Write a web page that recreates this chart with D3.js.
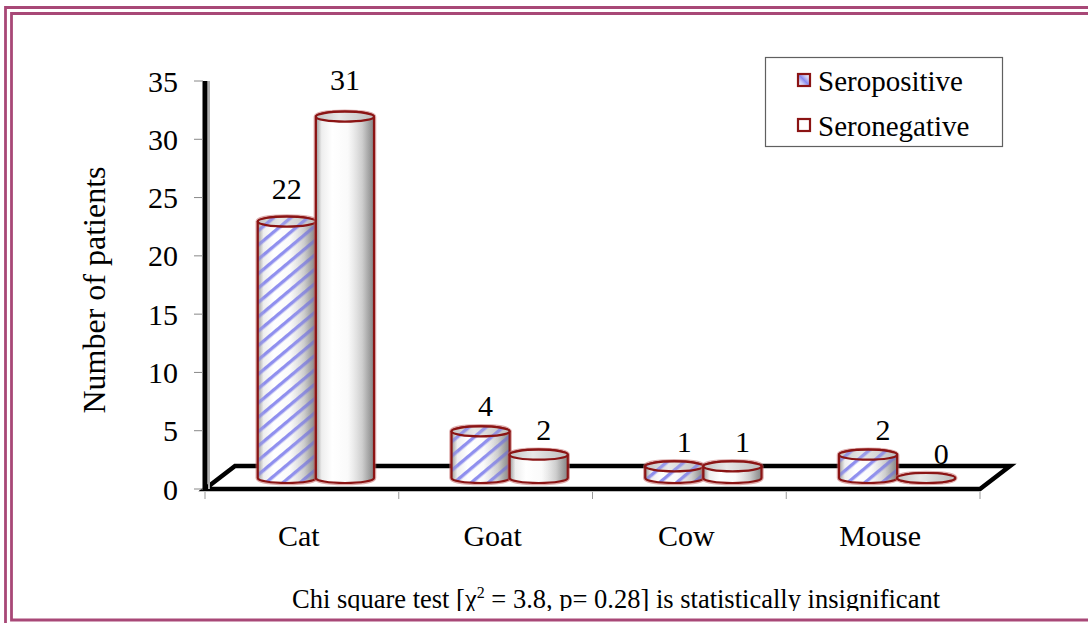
<!DOCTYPE html>
<html>
<head>
<meta charset="utf-8">
<script src="https://cdn.jsdelivr.net/npm/d3@7"></script>
<style>
  body { margin: 0; background: #fff; }
  svg { display: block; }
  text { font-family: "Liberation Serif", "Times New Roman", serif; fill: #000; }
</style>
</head>
<body>
<svg id="chart" width="1088" height="623"></svg>
<script>
// ---- data ----
const categories = ["Cat", "Goat", "Cow", "Mouse"];
const seriesNames = ["Seropositive", "Seronegative"];
const seropositive = [22, 4, 1, 2];
const seronegative = [31, 2, 1, 0];
const yTicks = [0, 5, 10, 15, 20, 25, 30, 35];
const yTitle = "Number of patients";
const noteBefore = "Chi square test [\u03C7";
const noteSup = "2";
const noteAfter = " = 3.8, p= 0.28] is statistically insignificant";

const svg = d3.select("#chart");
const defs = svg.append("defs");

// ---- scales ----
const x = d3.scaleBand().domain(categories).range([205, 980]);
const xs = d3.scaleBand().domain(seriesNames)
  .range([x.bandwidth() * 0.2, x.bandwidth() * 0.8]);
const y = d3.scaleLinear().domain([0, 35]).range([489, 81]);

// floor depth (back edge offset) and bar placement at mid-depth
const DX = 30, DY = -23;
const BDX = 14, BDY = -11;
const RY = 5;

// ---- gradients and patterns ----
const body = defs.append("linearGradient").attr("id", "bodyGrad")
  .attr("x1", 0).attr("x2", 1).attr("y1", 0).attr("y2", 0);
[[0, "#a8a8a8"], [0.1, "#eeeeee"], [0.28, "#ffffff"], [0.55, "#fafafa"],
 [0.8, "#d6d6d6"], [1, "#9a9a9a"]].forEach(([o, c]) =>
  body.append("stop").attr("offset", o).attr("stop-color", c));

const shade = defs.append("linearGradient").attr("id", "shadeGrad")
  .attr("x1", 0).attr("x2", 1).attr("y1", 0).attr("y2", 0);
[[0, "#7a7a7a", 0.45], [0.12, "#ffffff", 0], [0.55, "#ffffff", 0],
 [0.85, "#8a8a8a", 0.2], [1, "#6a6a6a", 0.45]].forEach(([o, c, a]) =>
  shade.append("stop").attr("offset", o).attr("stop-color", c).attr("stop-opacity", a));

const topG = defs.append("linearGradient").attr("id", "topGrad")
  .attr("x1", 0).attr("x2", 1).attr("y1", 0).attr("y2", 0);
[[0, "#c4c4c4"], [0.4, "#e8e8e8"], [1, "#bdbdbd"]].forEach(([o, c]) =>
  topG.append("stop").attr("offset", o).attr("stop-color", c));

const stripes = defs.append("pattern").attr("id", "stripes")
  .attr("patternUnits", "userSpaceOnUse")
  .attr("width", 11).attr("height", 11)
  .attr("patternTransform", "rotate(-40)");
stripes.append("rect").attr("x", 0).attr("y", 0).attr("width", 11).attr("height", 3.4)
  .attr("fill", "#7c7cec");

const swatchG = defs.append("linearGradient").attr("id", "swatchGrad")
  .attr("x1", 0).attr("y1", 1).attr("x2", 1).attr("y2", 0);
[[0, "#ffffff"], [0.3, "#c8c8f4"], [0.5, "#8a8aee"], [0.7, "#c8c8f4"], [1, "#ffffff"]]
  .forEach(([o, c]) => swatchG.append("stop").attr("offset", o).attr("stop-color", c));

const noteClip = defs.append("clipPath").attr("id", "noteClip");
noteClip.append("rect").attr("x", 0).attr("y", 560).attr("width", 1088).attr("height", 51);

// ---- page frame (double border) ----
const frameColor = "#9e3468";
svg.append("path")
  .attr("d", "M5.5,640 V7.5 H1100")
  .attr("fill", "none").attr("stroke", frameColor).attr("stroke-width", 2.8)
  .attr("stroke-opacity", 0.9);
svg.append("path")
  .attr("d", "M1100,13.5 H11.5 V620 H1100")
  .attr("fill", "none").attr("stroke", frameColor).attr("stroke-width", 2.8)
  .attr("stroke-opacity", 0.9);

// ---- floor ----
const x0 = x.range()[0], x1 = x.range()[1], yb = y(0);
const floor = svg.append("g");
floor.append("path")
  .attr("d", `M${x0},${yb} L${x0 + DX},${yb + DY} L${x1 + DX},${yb + DY} L${x1},${yb} Z`)
  .attr("fill", "#fff").attr("stroke", "#000").attr("stroke-width", 4.5)
  .attr("stroke-linejoin", "miter");

// category separators below the floor
floor.selectAll("line.xt")
  .data(categories.map(c => x(c)).concat([x1]))
  .join("line")
  .attr("x1", d => d).attr("x2", d => d)
  .attr("y1", yb + 3).attr("y2", yb + 10)
  .attr("stroke", "#999").attr("stroke-width", 1);

// ---- y axis ----
const axisG = svg.append("g");
axisG.append("line")
  .attr("x1", x0 + 4).attr("x2", x0 + 4).attr("y1", y(35)).attr("y2", yb)
  .attr("stroke", "#b0b0b0").attr("stroke-width", 2);
axisG.append("line")
  .attr("x1", x0).attr("x2", x0).attr("y1", y(35)).attr("y2", yb + 2)
  .attr("stroke", "#000").attr("stroke-width", 5);
axisG.selectAll("line.yt").data(yTicks).join("line")
  .attr("x1", x0 - 11).attr("x2", x0 - 2)
  .attr("y1", d => y(d)).attr("y2", d => y(d))
  .attr("stroke", "#888").attr("stroke-width", 1);
axisG.selectAll("text.yl").data(yTicks).join("text")
  .attr("x", x0 - 27).attr("y", d => y(d)).attr("dy", "0.35em")
  .attr("text-anchor", "end").attr("font-size", 30)
  .text(d => d);

svg.append("text")
  .attr("transform", "translate(105,290) rotate(-90)")
  .attr("text-anchor", "middle").attr("font-size", 32)
  .text(yTitle);

// ---- cylinders ----
const rows = [];
categories.forEach((c, i) => {
  [seropositive[i], seronegative[i]].forEach((v, s) => {
    rows.push({ cat: c, i, s, v, series: seriesNames[s] });
  });
});

function cylBody(xl, xr, yt, ybase) {
  const rx = (xr - xl) / 2;
  return `M${xl},${yt} L${xl},${ybase} A${rx},${RY} 0 0 0 ${xr},${ybase} ` +
         `L${xr},${yt} A${rx},${RY} 0 0 0 ${xl},${yt} Z`;
}

const barsG = svg.append("g");
rows.forEach(d => {
  const xl = x(d.cat) + xs(d.series) + BDX;
  const xr = xl + xs.bandwidth();
  const cx = (xl + xr) / 2, rx = (xr - xl) / 2;
  const yt = y(d.v) + BDY, ybase = y(0) + BDY;
  const g = barsG.append("g");
  const path = cylBody(xl, xr, yt, ybase);
  // soft outer edge
  g.append("path").attr("d", path).attr("fill", "none")
    .attr("stroke", "#c26a6a").attr("stroke-width", 4.5).attr("stroke-opacity", 0.55);
  g.append("path").attr("d", path).attr("fill", "url(#bodyGrad)");
  if (d.s === 0) {
    g.append("path").attr("d", path).attr("fill", "url(#stripes)").attr("opacity", 0.85);
  }
  g.append("path").attr("d", path).attr("fill", "url(#shadeGrad)");
  g.append("path").attr("d", path).attr("fill", "none")
    .attr("stroke", "#8b1414").attr("stroke-width", 2.2);
  // top cap
  g.append("ellipse").attr("cx", cx).attr("cy", yt).attr("rx", rx).attr("ry", RY)
    .attr("fill", "url(#topGrad)");
  if (d.s === 0) {
    g.append("ellipse").attr("cx", cx).attr("cy", yt).attr("rx", rx).attr("ry", RY)
      .attr("fill", "url(#stripes)").attr("opacity", 0.7);
  }
  g.append("ellipse").attr("cx", cx).attr("cy", yt).attr("rx", rx).attr("ry", RY)
    .attr("fill", "none").attr("stroke", "#8b1414").attr("stroke-width", 2.2);
});

// value labels
barsG.selectAll("text.val").data(rows).join("text")
  .attr("x", d => x(d.cat) + xs(d.series) + BDX + xs.bandwidth() / 2 + 5 * d.i)
  .attr("y", d => y(d.v) + BDY - 14 - 0.4 * d.v)
  .attr("text-anchor", "middle").attr("font-size", 30)
  .text(d => d.v);

// category labels
svg.selectAll("text.cat").data(categories).join("text")
  .attr("x", d => x(d) + x.bandwidth() / 2 - 3)
  .attr("y", 546)
  .attr("text-anchor", "middle").attr("font-size", 30)
  .text(d => d);

// ---- legend ----
const lg = svg.append("g");
lg.append("rect").attr("x", 765.5).attr("y", 57.5).attr("width", 237).attr("height", 89)
  .attr("fill", "#fff").attr("stroke", "#606060").attr("stroke-width", 1.2);
seriesNames.forEach((name, k) => {
  const yy = 80 + k * 45;
  lg.append("rect").attr("x", 798).attr("y", yy - 6).attr("width", 12).attr("height", 12)
    .attr("fill", k === 0 ? "url(#swatchGrad)" : "#fff")
    .attr("stroke", "#8b1414").attr("stroke-width", 2.2);
  lg.append("text").attr("x", 818).attr("y", yy + 11).attr("font-size", 29).text(name);
});

// ---- footnote ----
const note = svg.append("text")
  .attr("x", 616).attr("y", 608).attr("text-anchor", "middle")
  .attr("font-size", 26.5).attr("clip-path", "url(#noteClip)");
note.append("tspan").text(noteBefore);
note.append("tspan").attr("font-size", 16).attr("dy", -10).text(noteSup);
note.append("tspan").attr("dy", 10).text(noteAfter);
</script>
</body>
</html>
